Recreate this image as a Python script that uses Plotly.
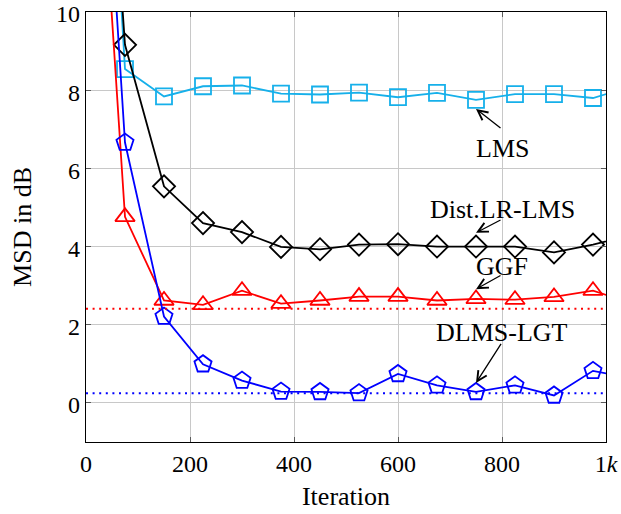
import plotly.graph_objects as go

iters = [0, 75, 150, 225, 300, 375, 450, 525, 600, 675, 750, 825, 900, 975, 1050]

lms = [25.5, 8.54, 7.84, 8.10, 8.12, 7.91, 7.89, 7.94, 7.82, 7.93, 7.75, 7.90, 7.90, 7.80, 8.10]
dist_lr_lms = [23.5, 9.16, 5.54, 4.60, 4.37, 3.99, 3.93, 4.05, 4.06, 4.00, 4.00, 4.00, 3.85, 4.05, 4.30]
ggf = [20.0, 4.76, 2.62, 2.51, 2.87, 2.54, 2.62, 2.72, 2.72, 2.62, 2.66, 2.64, 2.71, 2.87, 2.55]
dlms_lgt = [22.3, 6.66, 2.21, 0.99, 0.57, 0.29, 0.28, 0.25, 0.74, 0.45, 0.28, 0.45, 0.19, 0.82, 0.62]

ggf_steady = 2.41
dlms_lgt_steady = 0.25

xtick_vals = [0, 200, 400, 600, 800, 1000]
xtick_text = ["0", "200", "400", "600", "800", "1<i>k</i>"]
ytick_vals = [0, 2, 4, 6, 8, 10]

# annotations: label, text y, arrow tail y, arrow head y
labels = ["LMS", "Dist.LR-LMS", "GGF", "DLMS-LGT"]
label_y = [6.50, 4.96, 3.48, 1.79]
tail_y = [7.00, 4.70, 3.28, 1.55]
head_y = [7.52, 4.35, 2.91, 0.51]
label_x = 800
head_x = 750

CYAN = "rgb(22,176,234)"
FONT = "Liberation Serif"
FS = 26
TFS = 24

fig = go.Figure()

series = [
    (lms, CYAN, "square-open", 16),
    (dist_lr_lms, "black", "diamond-open", 17),
    (ggf, "red", "triangle-up-open", 17),
    (dlms_lgt, "blue", "pentagon-open", 18),
]
for ys, col, sym, sz in series:
    fig.add_trace(go.Scatter(
        x=iters, y=ys, mode="lines+markers",
        line=dict(color=col, width=1.8),
        marker=dict(symbol=sym, size=sz, color=col, line=dict(color=col, width=1.8)),
        showlegend=False,
    ))

for val, col in [(ggf_steady, "red"), (dlms_lgt_steady, "blue")]:
    fig.add_trace(go.Scatter(
        x=[0, 1000], y=[val, val], mode="lines",
        line=dict(color=col, width=2, dash="2px,4.6px"),
        showlegend=False,
    ))

annotations = []
for lab, ly, ty, hy in zip(labels, label_y, tail_y, head_y):
    annotations.append(dict(
        x=head_x, y=hy, ax=label_x, ay=ty, xref="x", yref="y", axref="x", ayref="y",
        text="", showarrow=True, arrowhead=5, arrowsize=1.5, arrowwidth=1.3, arrowcolor="black",
        standoff=0, startstandoff=0,
    ))
    annotations.append(dict(
        x=label_x, y=ly, xref="x", yref="y", text=lab, showarrow=False,
        font=dict(family=FONT, size=FS, color="black"),
    ))

fig.update_layout(
    width=621, height=514,
    margin=dict(l=86, r=15, t=12, b=72),
    paper_bgcolor="white", plot_bgcolor="white",
    font=dict(family=FONT, size=FS, color="black"),
    annotations=annotations,
    xaxis=dict(
        range=[0, 1000], tickvals=xtick_vals, ticktext=xtick_text,
        showgrid=True, gridcolor="rgb(200,200,200)", gridwidth=1,
        showline=True, linecolor="black", linewidth=1.2, mirror="ticks",
        ticks="inside", ticklen=5, tickcolor="rgb(90,90,90)",
        zeroline=False, automargin=False, ticklabeloverflow="allow",
        tickfont=dict(family=FONT, size=TFS),
        title=dict(text="Iteration", font=dict(family=FONT, size=FS), standoff=10),
    ),
    yaxis=dict(
        range=[-1, 10], tickvals=ytick_vals,
        showgrid=True, gridcolor="rgb(200,200,200)", gridwidth=1,
        showline=True, linecolor="black", linewidth=1.2, mirror="ticks",
        ticks="inside", ticklen=5, tickcolor="rgb(90,90,90)",
        zeroline=False, automargin=False, ticklabeloverflow="allow",
        ticklabelshift=2,
        tickfont=dict(family=FONT, size=TFS),
        title=dict(text="MSD in dB", font=dict(family=FONT, size=FS), standoff=16),
    ),
)

fig.write_html("out.html")
